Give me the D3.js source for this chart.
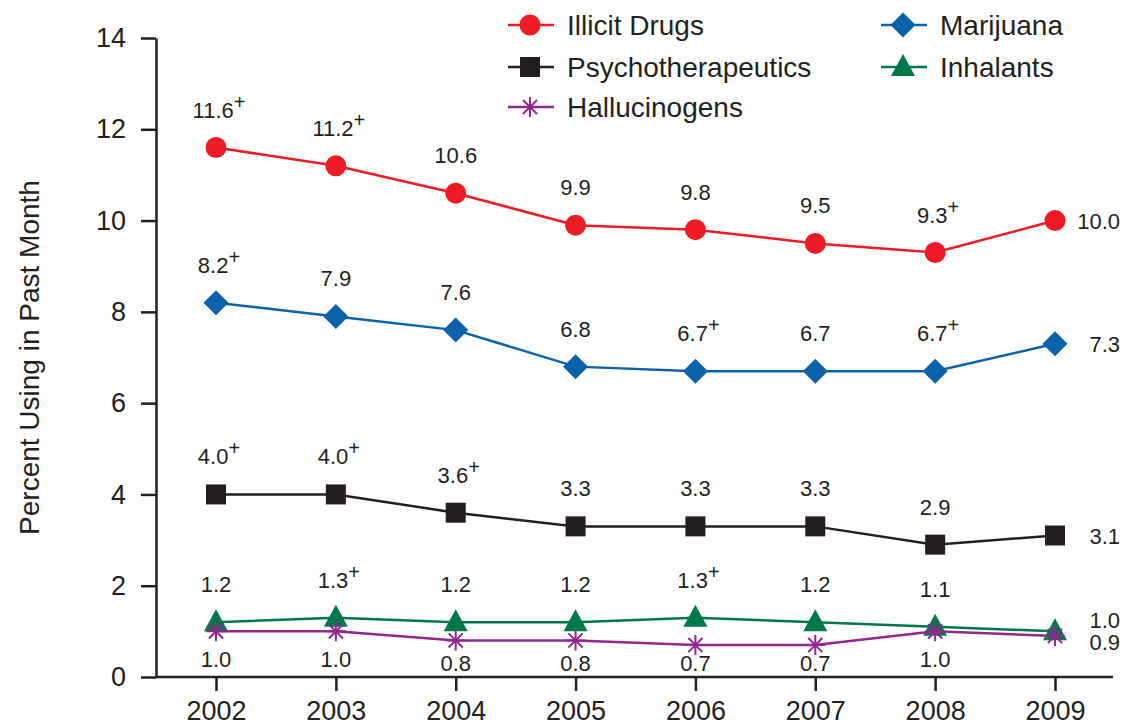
<!DOCTYPE html>
<html><head><meta charset="utf-8">
<script src="https://cdn.jsdelivr.net/npm/d3@7"></script>
<style>
body{margin:0;background:#fff;}
text{font-family:"Liberation Sans",Arial,Helvetica,sans-serif;fill:#231f20;}
</style></head>
<body><svg id="chart" width="1123" height="726"></svg>
<script>
const years = [2002, 2003, 2004, 2005, 2006, 2007, 2008, 2009];
const illicit = [11.6, 11.2, 10.6, 9.9, 9.8, 9.5, 9.3, 10.0];
const marijuana = [8.2, 7.9, 7.6, 6.8, 6.7, 6.7, 6.7, 7.3];
const psycho = [4.0, 4.0, 3.6, 3.3, 3.3, 3.3, 2.9, 3.1];
const inhalants = [1.2, 1.3, 1.2, 1.2, 1.3, 1.2, 1.1, 1.0];
const halluc = [1.0, 1.0, 0.8, 0.8, 0.7, 0.7, 1.0, 0.9];
const illicitSig = [1, 1, 0, 0, 0, 0, 1, 0];
const marijuanaSig = [1, 0, 0, 0, 1, 0, 1, 0];
const psychoSig = [1, 1, 1, 0, 0, 0, 0, 0];
const inhalantsSig = [0, 1, 0, 0, 1, 0, 0, 0];
const hallucSig = [0, 0, 0, 0, 0, 0, 0, 0];
const yTicks = [0, 2, 4, 6, 8, 10, 12, 14];
const yTitle = "Percent Using in Past Month";

const series = [
  {name:"Illicit Drugs", values:illicit, sig:illicitSig, color:"#ed1c24", marker:"circle", pos:"above", endDy:0, leg:[530,25]},
  {name:"Marijuana", values:marijuana, sig:marijuanaSig, color:"#0b62ab", marker:"diamond", pos:"above", endDy:0, leg:[903,25]},
  {name:"Psychotherapeutics", values:psycho, sig:psychoSig, color:"#231f20", marker:"square", pos:"above", endDy:0, leg:[530,67]},
  {name:"Inhalants", values:inhalants, sig:inhalantsSig, color:"#00784a", marker:"triangle", pos:"above", endDy:-11, leg:[903,67]},
  {name:"Hallucinogens", values:halluc, sig:hallucSig, color:"#92278f", marker:"asterisk", pos:"below", endDy:6, leg:[530,107]}
];

const svg = d3.select("#chart");
const x = d3.scalePoint().domain(years).range([216, 1055]).padding(0);
const y = d3.scaleLinear().domain([0, 14]).range([677, 38]);
const axisLeftX = 156, axisRightX = 1113;

// Y axis
const yAxis = svg.append("g").attr("transform", `translate(${axisLeftX},0)`)
  .call(d3.axisLeft(y).tickValues(yTicks).tickSize(15).tickSizeOuter(0).tickPadding(15).tickFormat(d3.format("d")));
yAxis.selectAll("text").style("font-size","27px").attr("fill","#231f20");
yAxis.selectAll("line,path").attr("stroke","#231f20").attr("stroke-width",2.5);

// X axis
const xAxis = svg.append("g").attr("transform", `translate(0,${y(0)})`)
  .call(d3.axisBottom(x).tickSize(14).tickSizeOuter(0).tickPadding(10).tickFormat(d3.format("d")));
xAxis.select(".domain").remove();
xAxis.append("line").attr("x1", axisLeftX).attr("x2", axisRightX).attr("y1",0).attr("y2",0)
  .attr("stroke","#231f20").attr("stroke-width",2.5);
xAxis.selectAll("text").style("font-size","27px").attr("fill","#231f20");
xAxis.selectAll("line").attr("stroke","#231f20").attr("stroke-width",2.5);

// Y title
svg.append("text").attr("transform", `translate(39,${(180+535)/2}) rotate(-90)`)
  .attr("text-anchor","middle").style("font-size","28px").text(yTitle);

function drawMarker(g, type, color) {
  if (type === "circle") g.append("circle").attr("r",10.5).attr("fill",color);
  else if (type === "diamond") g.append("path").attr("d","M0,-12.5L12.5,0L0,12.5L-12.5,0Z").attr("fill",color);
  else if (type === "square") g.append("rect").attr("x",-10).attr("y",-10).attr("width",20).attr("height",20).attr("fill",color);
  else if (type === "triangle") g.append("path").attr("d","M0,-13L12,9L-12,9Z").attr("fill",color);
  else if (type === "asterisk") {
    const r = 10, d = r*Math.SQRT1_2;
    g.append("path").attr("d",`M0,${-r}L0,${r}M${-r},0L${r},0M${-d},${-d}L${d},${d}M${-d},${d}L${d},${-d}`)
      .attr("stroke",color).attr("stroke-width",2).attr("fill","none");
  }
}

const line = d3.line().x((d,i)=>x(years[i])).y(d=>y(d));
const fmt = d3.format(".1f");

series.forEach(s => {
  const g = svg.append("g");
  g.append("path").datum(s.values).attr("d", line).attr("fill","none")
    .attr("stroke", s.color).attr("stroke-width", 2.5);
  s.values.forEach((v,i) => {
    const mg = g.append("g").attr("transform", `translate(${x(years[i])},${y(v)})`);
    drawMarker(mg, s.marker, s.color);
  });
  // labels
  s.values.forEach((v,i) => {
    let t;
    if (i === years.length - 1) {
      t = svg.append("text").attr("x", 1120).attr("y", y(v) + s.endDy)
        .attr("text-anchor","end").attr("dominant-baseline","central");
    } else {
      const by = s.pos === "above" ? y(v) - 30 : Math.min(y(v) + 36, 671);
      t = svg.append("text").attr("x", x(years[i]) + (s.sig[i] ? 3 : 0)).attr("y", by).attr("text-anchor","middle");
    }
    t.style("font-size","22px");
    t.append("tspan").text(fmt(v));
    if (s.sig[i]) t.append("tspan").attr("dy",-9).style("font-size","20px").text("+");
  });
});

// Legend
series.forEach(s => {
  const [cx, cy] = s.leg;
  const lg = svg.append("g");
  lg.append("line").attr("x1",cx-22).attr("x2",cx+24).attr("y1",cy).attr("y2",cy)
    .attr("stroke",s.color).attr("stroke-width",2.5);
  const mg = lg.append("g").attr("transform",`translate(${cx},${cy})`);
  drawMarker(mg, s.marker, s.color);
  lg.append("text").attr("x", cx+37).attr("y", cy).attr("dominant-baseline","central")
    .style("font-size","28px").text(s.name);
});
</script>
</body></html>
